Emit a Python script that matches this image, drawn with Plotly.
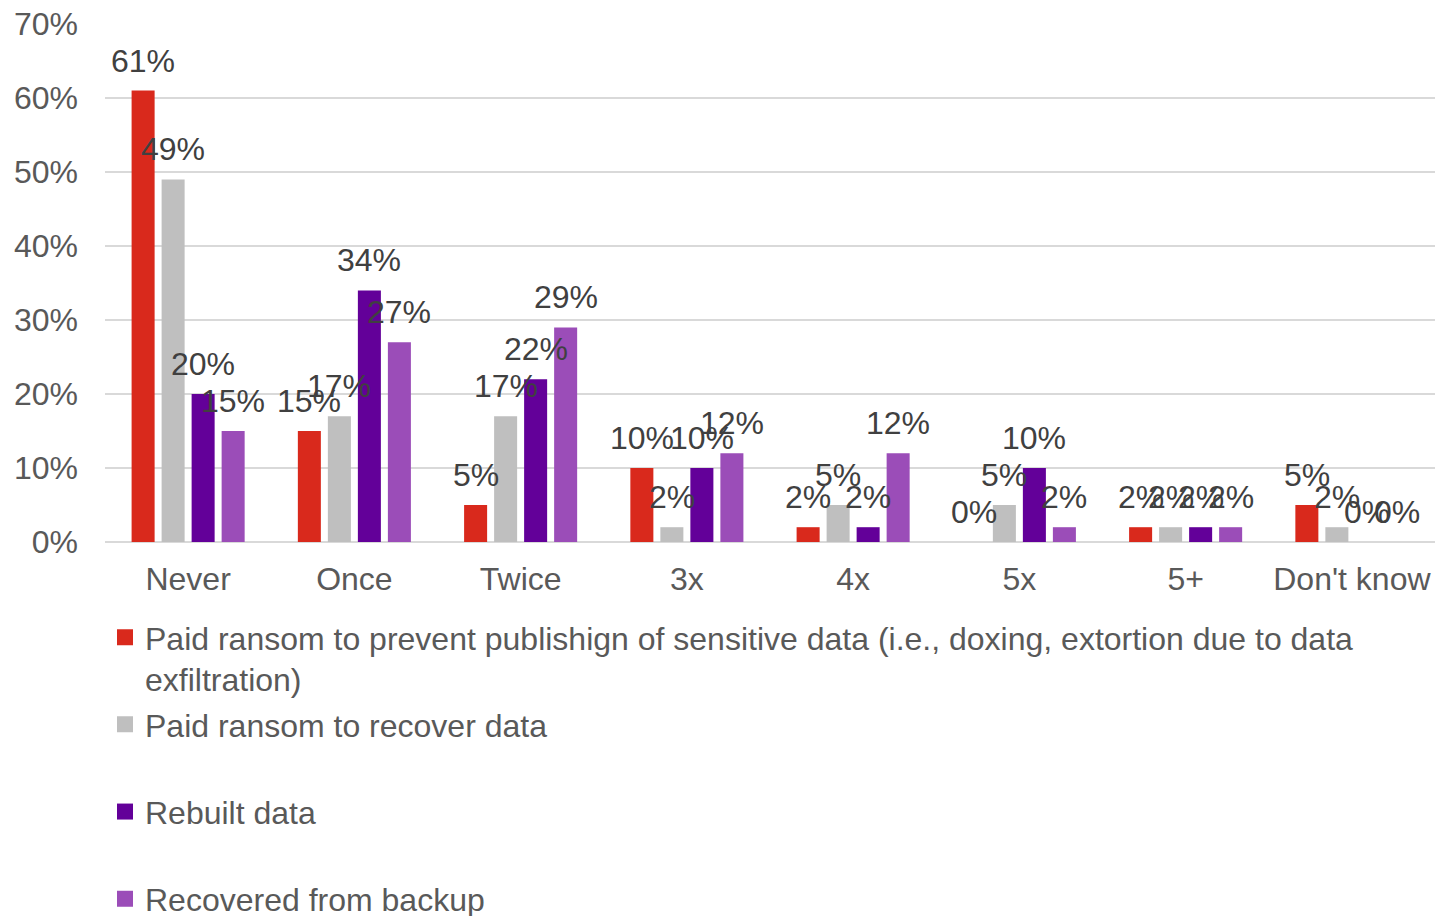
import plotly.graph_objects as go

categories = ["Never", "Once", "Twice", "3x", "4x", "5x", "5+", "Don't know"]

paid_prevent_publish = [61, 15, 5, 10, 2, 0, 2, 5]
paid_recover = [49, 17, 17, 2, 5, 5, 2, 2]
rebuilt = [20, 34, 22, 10, 2, 10, 2, 0]
from_backup = [15, 27, 29, 12, 12, 2, 2, 0]

series_names = [
    "Paid ransom to prevent publishign of sensitive data (i.e., doxing, extortion due to data<br>exfiltration)",
    "Paid ransom to recover data<br> ",
    "Rebuilt data<br> ",
    "Recovered from backup<br> ",
]
series_values = [paid_prevent_publish, paid_recover, rebuilt, from_backup]
colors = ["#D9291C", "#BFBFBF", "#630099", "#9B4DB8"]

FONT = "Liberation Sans, Arial, sans-serif"
FS = 32
W, H = 1435, 916
M_L, M_R, M_T, M_B = 105, 0, 24, 374
BARGAP, GROUPGAP = 0.278, 0.233

fig = go.Figure()

for i, (name, vals, col) in enumerate(zip(series_names, series_values, colors)):
    fig.add_trace(go.Bar(
        x=categories, y=vals, marker=dict(color=col, line=dict(width=0)),
        showlegend=False, legendgroup=f"g{i}",
    ))
    # legend entry with a larger square swatch
    fig.add_trace(go.Scatter(
        x=[None], y=[None], mode="markers", name=name, legendgroup=f"g{i}",
        marker=dict(symbol="square", size=16, color=col),
    ))

# value labels centred over each bar of the group
plot_w = W - M_L - M_R
slot = plot_w / len(categories) * (1 - BARGAP) / len(series_values)
for i, vals in enumerate(series_values):
    for cat, v in zip(categories, vals):
        fig.add_annotation(
            x=cat, y=v, text=f"{v}%", showarrow=False,
            xanchor="center", yanchor="bottom",
            xshift=(i - (len(series_values) - 1) / 2) * slot, yshift=10,
            font=dict(family=FONT, size=FS, color="#404040"),
        )

fig.update_layout(
    width=W, height=H,
    margin=dict(l=M_L, r=M_R, t=M_T, b=M_B, autoexpand=False),
    paper_bgcolor="white", plot_bgcolor="white",
    barmode="group", bargap=BARGAP, bargroupgap=GROUPGAP,
    font=dict(family=FONT, size=FS, color="#595959"),
    xaxis=dict(
        type="category", showgrid=False, showline=False, zeroline=False,
        ticks="", tickfont=dict(size=FS, color="#595959"), ticklabelstandoff=15,
    ),
    yaxis=dict(
        range=[0, 70], dtick=10, ticksuffix="%",
        showgrid=True, gridcolor="#D9D9D9", gridwidth=2,
        zeroline=True, zerolinecolor="#D9D9D9", zerolinewidth=2,
        showline=False, ticks="", tickfont=dict(size=FS, color="#595959"),
        ticklabelstandoff=26,
    ),
    legend=dict(
        x=0.0, xanchor="left", y=-0.131, yanchor="top",
        orientation="v", valign="top", tracegroupgap=1,
        font=dict(family=FONT, size=FS, color="#595959"),
        bgcolor="rgba(0,0,0,0)", itemclick=False,
    ),
    showlegend=True,
)

fig.write_html("out.html")
